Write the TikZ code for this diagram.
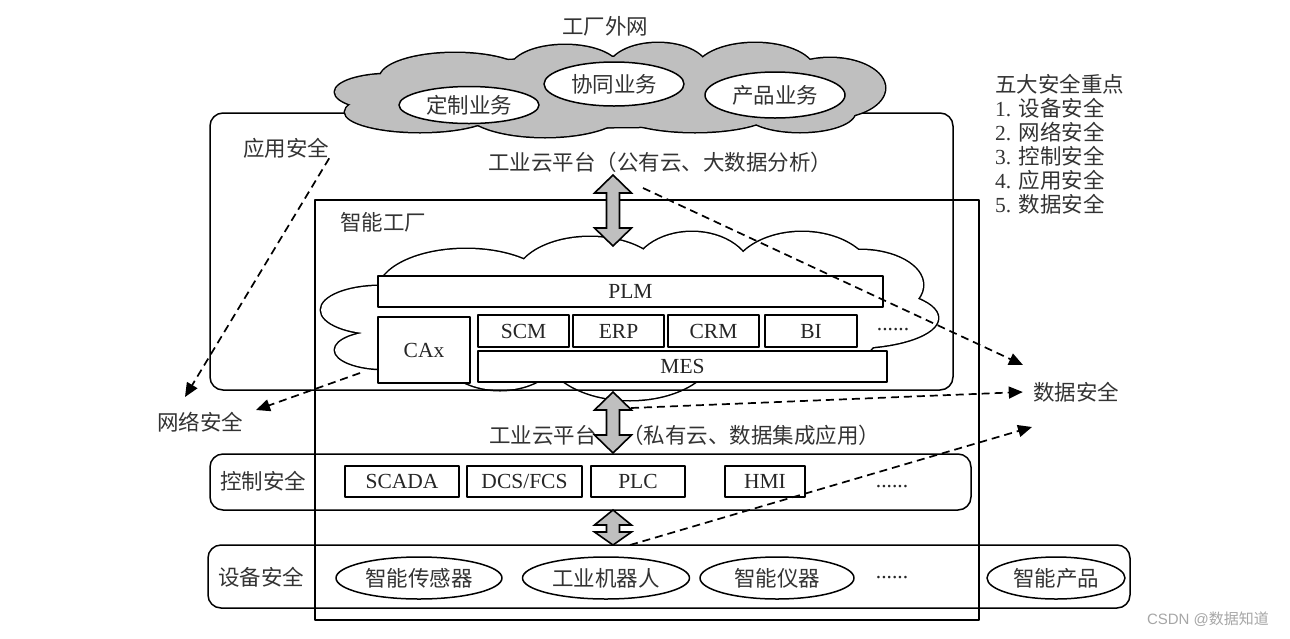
\documentclass[tikz,border=0pt]{standalone}
\usepackage{fontspec}
\setmainfont{Liberation Serif}
\setsansfont{Liberation Sans}
\newfontfamily\cjk{Noto Sans CJK SC}
\usetikzlibrary{shapes.geometric,arrows.meta}
% block arrow: x, top, bottom, top head, bottom head
\newcommand{\blkarrow}[5]{%
  \filldraw[blk] (#1,#2) -- (#1+18.5,#2+#4) -- (#1+6.5,#2+#4) -- (#1+6.5,#3-#5) -- (#1+18.5,#3-#5)
    -- (#1,#3) -- (#1-18.5,#3-#5) -- (#1-6.5,#3-#5) -- (#1-6.5,#2+#4) -- (#1-18.5,#2+#4) -- cycle;}
\begin{document}
\begin{tikzpicture}[x=1pt, y=-1pt, line join=round, line cap=round,
	font=\fontsize{21.5}{24}\selectfont,
	zh/.style={font=\fontsize{21.5}{24}\selectfont\cjk, text=black!80, inner sep=0pt},
	sys/.style={draw, line width=1.6pt, fill=white, inner sep=0pt, text=black!85},
	dev/.style={ellipse, draw, line width=1.5pt, fill=white, zh},
	zone/.style={draw, line width=1.5pt, rounded corners=13pt, inner sep=0pt},
	blk/.style={fill=gray!50, draw, line width=1.6pt, line join=miter},
	risk/.style={dashed, dash pattern=on 8pt off 5pt, line width=1.7pt, line cap=butt, -{Triangle[length=14pt,width=12pt]}}]
	\useasboundingbox (0,0) rectangle (1290,638);
	% cloud of the factory
	\def\midcloud{380/310/59/24, 385/350/50/19, 466/292/88/43, 590/280/75/43, 692/275/60/43,
		802/280/72/48, 860/285/63/35, 850/318/88/30, 500/350/60/40, 630/350/85/50, 760/330/120/50, 630/310/240/55}
	\foreach \cx/\cy/\rx/\ry in \midcloud \draw[line width=3pt] (\cx,\cy) ellipse [x radius=\rx, y radius=\ry];
	\foreach \cx/\cy/\rx/\ry in \midcloud \fill[white] (\cx,\cy) ellipse [x radius=\rx, y radius=\ry];
	% zones
	\node[zone, minimum width=743, minimum height=277] (appzone) at (581.5,251.5) {};
	\node[zone, rounded corners=0pt, minimum width=664, minimum height=420] (factory) at (647,410) {};
	\node[zone, minimum width=761, minimum height=56] (ctrlzone) at (590.5,482) {};
	\node[zone, minimum width=922, minimum height=63] (devzone) at (669,576.5) {};
	% cloud outside the factory
	\def\topcloud{390/92/55/18, 455/78/75/25, 565/70/55/25, 658/70/50/27, 755/72/60/29, 830/88/55/30,
		800/112/55/20, 420/112/75/20, 545/110/80/27, 695/110/80/22, 610/92/240/35}
	\foreach \cx/\cy/\rx/\ry in \topcloud \draw[line width=3pt] (\cx,\cy) ellipse [x radius=\rx, y radius=\ry];
	\foreach \cx/\cy/\rx/\ry in \topcloud \fill[gray!50] (\cx,\cy) ellipse [x radius=\rx, y radius=\ry];
	\node[dev, minimum width=140, minimum height=37] (dingzhi) at (469,105) {定制业务};
	\node[dev, minimum width=140, minimum height=44] (xietong) at (614,84) {协同业务};
	\node[dev, minimum width=140, minimum height=46] (chanpin) at (775,95) {产品业务};
	% labels
	\node[zh] (waiwang) at (605,26) {工厂外网};
	\node[zh] (yyaq) at (286,148) {应用安全};
	\node[zh] (pubcloud) at (660,162) {工业云平台（公有云、大数据分析）};
	\node[zh] (zngc) at (383,222) {智能工厂};
	\node[zh] (wlaq) at (200,422) {网络安全};
	\node[zh, inner xsep=10pt] (sjaq) at (1076,392) {数据安全};
	\node[zh, anchor=east] (pricloud) at (597,435) {工业云平台};
	\node[zh, anchor=west] (pricloud2) at (622,435) {（私有云、数据集成应用）};
	\node[zh] (kzaq) at (263,481) {控制安全};
	\node[zh] (sbaq) at (261,577) {设备安全};
	\node[zh, anchor=north west, align=left] (keypts) at (995,74) {五大安全重点\\{\rmfamily 1. }设备安全\\{\rmfamily 2. }网络安全\\{\rmfamily 3. }控制安全\\{\rmfamily 4. }应用安全\\{\rmfamily 5. }数据安全};
	% systems in the factory cloud
	\node[sys, minimum width=505, minimum height=31] (plm) at (630.5,291.5) {PLM};
	\node[sys, minimum width=92, minimum height=66] (cax) at (424,350) {CAx};
	\node[sys, minimum width=91, minimum height=32] (scm) at (523.5,331) {SCM};
	\node[sys, minimum width=91, minimum height=32] (erp) at (618.5,331) {ERP};
	\node[sys, minimum width=91, minimum height=32] (crm) at (713.5,331) {CRM};
	\node[sys, minimum width=92, minimum height=32] (bi) at (811,331) {BI};
	\node[sys, minimum width=409, minimum height=31] (mes) at (682.5,366.5) {MES};
	\node[text=black!85, inner sep=0pt] (moreapp) at (893,330) {......};
	% control layer
	\node[sys, minimum width=114, minimum height=31] (scada) at (402,481.5) {SCADA};
	\node[sys, minimum width=115, minimum height=31] (dcs) at (524.5,481.5) {DCS/FCS};
	\node[sys, minimum width=94, minimum height=31] (plc) at (638,481.5) {PLC};
	\node[sys, minimum width=80, minimum height=31] (hmi) at (765,481.5) {HMI};
	\node[text=black!85, inner sep=0pt] (morectrl) at (892,487) {......};
	% device layer
	\node[dev, minimum width=166, minimum height=42] (sensor) at (419,578) {智能传感器};
	\node[dev, minimum width=167, minimum height=42] (robot) at (606,578) {工业机器人};
	\node[dev, minimum width=154, minimum height=42] (instr) at (777,578) {智能仪器};
	\node[text=black!85, inner sep=0pt] (moredev) at (892,578) {......};
	\node[dev, minimum width=138, minimum height=42] (product) at (1056,578) {智能产品};
	% platform arrows
	\blkarrow{613}{175}{246}{18}{18}
	\blkarrow{613}{392}{453}{18}{18}
	\blkarrow{613}{510}{545}{15}{13}
	% security arrows
	\coordinate (wl1) at (185,397);
	\coordinate (wl2) at (256,410);
	\coordinate (cxs) at (360,373);
	\coordinate (pubs) at (643,188);
	\coordinate (sj1) at (1023,365);
	\coordinate (pris) at (631,408);
	\coordinate (devs) at (630,545);
	\coordinate (sj3) at (1032,427);
	\draw[risk] (yyaq.south east) -- (wl1);
	\draw[risk] (cxs) -- (wl2);
	\draw[risk] (pubs) -- (sj1);
	\draw[risk] (pris) -- (sjaq.west);
	\draw[risk] (devs) -- (sj3);
	\node[font=\fontsize{15}{18}\selectfont\sffamily, text=black!35, inner sep=0pt] (csdn) at (1208,619) {CSDN @{\cjk 数据知道}};
\end{tikzpicture}
\end{document}
